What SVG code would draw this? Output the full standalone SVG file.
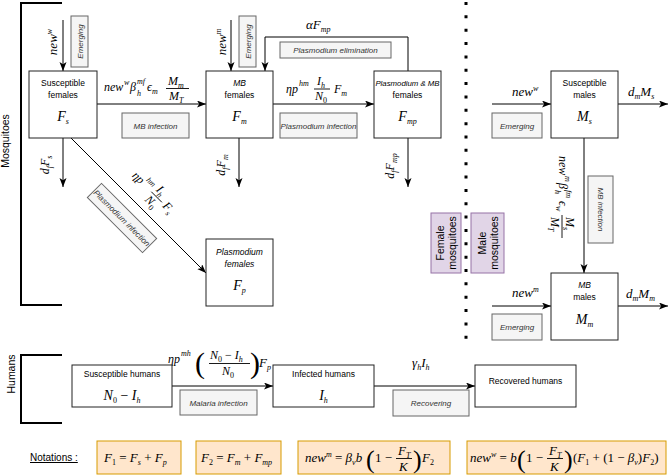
<svg xmlns="http://www.w3.org/2000/svg" width="669" height="475" viewBox="0 0 669 475">
<defs>
<marker id="ar" markerWidth="10" markerHeight="8" refX="9" refY="3.5" orient="auto" markerUnits="userSpaceOnUse"><path d="M0,0 L9,3.5 L0,7 L2.2,3.5 z" fill="#000"/></marker>
<style>
.box{fill:#fff;stroke:#222;stroke-width:1}
.lbl{fill:#f5f5f5;stroke:#666;stroke-width:1}
.pur{fill:#e1d5e7;stroke:#9673a6;stroke-width:1}
.not{fill:#ffe6cc;stroke:#d79b00;stroke-width:1}
.lt{font-family:"Liberation Sans",Arial,sans-serif;font-style:italic;font-size:8px;fill:#333;text-anchor:middle}
.t{font-family:"Liberation Sans",Arial,sans-serif;font-size:8.5px;fill:#000;text-anchor:middle}
.ti{font-family:"Liberation Sans",Arial,sans-serif;font-size:8.5px;font-style:italic;fill:#000;text-anchor:middle}
.big{font-family:"Liberation Sans",Arial,sans-serif;font-size:10.5px;fill:#000;text-anchor:middle}
.m{font-family:"Liberation Serif","DejaVu Serif",serif;font-style:italic;font-size:12px;fill:#000}
.nm{font-family:"Liberation Serif","DejaVu Serif",serif;font-style:italic;font-size:14px;fill:#000;text-anchor:middle}
.nt{font-family:"Liberation Serif","DejaVu Serif",serif;font-style:italic;font-size:13px;fill:#000}
.u{font-style:normal}
.s{font-size:8px}
.con line,.con path{stroke:#000;stroke-width:1;fill:none;marker-end:url(#ar)}
.br{stroke:#000;stroke-width:2;fill:none}
.fb{stroke:#000;stroke-width:0.9}
</style>
</defs>

<!-- brackets and group labels -->
<g id="mosquitoes-bracket">
<path class="br" d="M62,3 H21 V305 H62"/>
<text class="big" transform="translate(9,141) rotate(-90)">Mosquitoes</text>
</g>
<g id="humans-bracket">
<path class="br" d="M62,355 H21 V423 H62"/>
<text class="big" transform="translate(15,374) rotate(-90)">Humans</text>
</g>
<g id="divider">
<line x1="466" y1="2" x2="466" y2="340" stroke="#000" stroke-width="3" stroke-dasharray="3 10.35"/>
</g>
<g id="female-label">
<rect class="pur" x="431" y="213" width="30" height="60"/>
<text class="big" transform="translate(446,243) rotate(-90)"><tspan x="0" y="-2">Female</tspan><tspan x="0" y="10">mosquitoes</tspan></text>
</g>
<g id="male-label">
<rect class="pur" x="471" y="213" width="33" height="60"/>
<text class="big" transform="translate(487.5,243) rotate(-90)"><tspan x="0" y="-2">Male</tspan><tspan x="0" y="10">mosquitoes</tspan></text>
</g>

<!-- connectors -->
<g id="connectors" class="con">
<line x1="63" y1="20" x2="63" y2="71"/>
<line x1="97" y1="104" x2="206" y2="104"/>
<line x1="231" y1="20" x2="231" y2="71"/>
<path d="M408,71 V37 H265 V71"/>
<line x1="273" y1="104" x2="374" y2="104"/>
<line x1="63" y1="138" x2="63" y2="187"/>
<line x1="239" y1="138" x2="239" y2="187"/>
<line x1="408" y1="138" x2="408" y2="187"/>
<line x1="71" y1="138" x2="206" y2="273"/>
<line x1="492" y1="104" x2="551" y2="104"/>
<line x1="618" y1="104" x2="668" y2="104"/>
<line x1="584" y1="138" x2="584" y2="273"/>
<line x1="492" y1="306" x2="551" y2="306"/>
<line x1="618" y1="306" x2="668" y2="306"/>
<line x1="172" y1="386" x2="273" y2="386"/>
<line x1="374" y1="386" x2="475" y2="386"/>
</g>

<!-- connector labels -->
<g id="edge-labels">
<rect class="lbl" x="71" y="16" width="17" height="51"/>
<text class="lt" transform="translate(82.5,41.5) rotate(-90)">Emerging</text>
<text class="m" transform="translate(57,42) rotate(-90)" text-anchor="middle" style="font-size:13px">new<tspan class="s" dy="-5">w</tspan></text>

<rect class="lbl" x="239" y="16" width="17" height="51"/>
<text class="lt" transform="translate(250.5,41.5) rotate(-90)">Emerging</text>
<text class="m" transform="translate(226,42) rotate(-90)" text-anchor="middle" style="font-size:13px">new<tspan class="s" dy="-5">m</tspan></text>

<text class="m" x="104" y="91">new</text>
<text class="m s" x="124" y="85">w</text>
<text class="m" x="130" y="91">β</text>
<text class="m s" x="137" y="84">mf</text>
<text class="m s" x="137" y="96">h</text>
<text class="m" x="147" y="91">ϵ</text>
<text class="m s" x="152" y="94">m</text>
<text class="m" x="168" y="85">M<tspan class="s" dy="3">m</tspan></text>
<line class="fb" x1="166" y1="88.5" x2="189" y2="88.5"/>
<text class="m" x="169" y="100">M<tspan class="s" dy="3">T</tspan></text>
<rect class="lbl" x="122" y="113" width="67" height="25"/>
<text class="lt" x="155.5" y="128.5">MB infection</text>

<text class="m" x="306" y="29" style="font-size:13px">αF<tspan class="s" dy="3">mp</tspan></text>
<rect class="lbl" x="280" y="42" width="111" height="16"/>
<text class="lt" x="335.5" y="53">Plasmodium elimination</text>

<text class="m" x="286" y="93">ηp</text>
<text class="m s" x="299" y="86">hm</text>
<text class="m" x="317" y="85">I<tspan class="s" dy="3">h</tspan></text>
<line class="fb" x1="314" y1="89" x2="330" y2="89"/>
<text class="m" x="315" y="100">N<tspan class="s u" dy="3">0</tspan></text>
<text class="m" x="334" y="93">F<tspan class="s" dy="3">m</tspan></text>
<rect class="lbl" x="280" y="113" width="77" height="25"/>
<text class="lt" x="318.5" y="128.5">Plasmodium infection</text>

<text class="m" transform="translate(49,165) rotate(-90)" text-anchor="middle">d<tspan class="s" dy="3">f</tspan><tspan dy="-3">F</tspan><tspan class="s" dy="3">s</tspan></text>
<text class="m" transform="translate(225,165) rotate(-90)" text-anchor="middle">d<tspan class="s" dy="3">f</tspan><tspan dy="-3">F</tspan><tspan class="s" dy="3">m</tspan></text>
<text class="m" transform="translate(394,166) rotate(-90)" text-anchor="middle">d<tspan class="s" dy="3">f</tspan><tspan dy="-3">F</tspan><tspan class="s" dy="3">mp</tspan></text>

<g transform="translate(152,191) rotate(45)">
<text class="m" x="-25" y="4">ηp</text>
<text class="m s" x="-12" y="-3">hm</text>
<text class="m" x="2" y="-3">I<tspan class="s" dy="3">h</tspan></text>
<line class="fb" x1="0" y1="1" x2="15" y2="1"/>
<text class="m" x="1" y="12">N<tspan class="s u" dy="3">0</tspan></text>
<text class="m" x="18" y="4">F<tspan class="s" dy="3">s</tspan></text>
</g>
<g transform="translate(122,218) rotate(45)">
<rect class="lbl" x="-39" y="-10" width="78" height="20"/>
<text class="lt" x="0" y="3">Plasmodium infection</text>
</g>

<text class="m" x="512" y="96" style="font-size:13px">new<tspan class="s" dy="-5">w</tspan></text>
<rect class="lbl" x="492" y="113" width="50" height="25"/>
<text class="lt" x="517" y="128.5">Emerging</text>
<text class="m" x="628" y="96" style="font-size:13px">d<tspan class="s" dy="3">m</tspan><tspan dy="-3">M</tspan><tspan class="s" dy="3">s</tspan></text>

<g transform="translate(563,198) rotate(90)">
<text class="m" x="-42" y="4">new</text>
<text class="m s" x="-22" y="-2">m</text>
<text class="m" x="-15" y="4">β</text>
<text class="m s" x="-8" y="-3">fm</text>
<text class="m s" x="-8" y="8">h</text>
<text class="m" x="3" y="4">ϵ</text>
<text class="m s" x="8" y="7">w</text>
<text class="m" x="19" y="-3">M<tspan class="s" dy="3">s</tspan></text>
<line class="fb" x1="17" y1="1" x2="40" y2="1"/>
<text class="m" x="19" y="12">M<tspan class="s" dy="3">T</tspan></text>
</g>
<rect class="lbl" x="588" y="176" width="25" height="67"/>
<text class="lt" transform="translate(597.5,209.5) rotate(90)">MB infection</text>

<text class="m" x="512" y="297" style="font-size:13px">new<tspan class="s" dy="-5">m</tspan></text>
<rect class="lbl" x="492" y="314" width="50" height="26"/>
<text class="lt" x="517" y="330">Emerging</text>
<text class="m" x="626" y="298" style="font-size:13px">d<tspan class="s" dy="3">m</tspan><tspan dy="-3">M</tspan><tspan class="s" dy="3">m</tspan></text>

<text class="m" x="168" y="363">ηp</text>
<text class="m s" x="181" y="356">mh</text>
<text class="m u" x="195" y="373" style="font-size:30px">(</text>
<text class="m" x="210" y="359">N<tspan class="s u" dy="3">0</tspan><tspan class="u" dy="-3"> − </tspan>I<tspan class="s" dy="3">h</tspan></text>
<line class="fb" x1="209" y1="363.5" x2="250" y2="363.5"/>
<text class="m" x="222" y="375">N<tspan class="s u" dy="3">0</tspan></text>
<text class="m u" x="250" y="373" style="font-size:30px">)</text>
<text class="m" x="259" y="367" style="font-size:13px">F<tspan class="s" dy="3">p</tspan></text>
<rect class="lbl" x="180" y="390" width="77" height="25"/>
<text class="lt" x="218.5" y="405.5">Malaria infection</text>

<text class="m" x="412" y="367" style="font-size:13px">γ<tspan class="s" dy="3">h</tspan><tspan dy="-3">I</tspan><tspan class="s" dy="3">h</tspan></text>
<rect class="lbl" x="393" y="390" width="76" height="26"/>
<text class="lt" x="431" y="406">Recovering</text>
</g>

<!-- nodes -->
<g id="node-Fs">
<rect class="box" x="29" y="71" width="68" height="67"/>
<text class="t" x="63" y="86">Susceptible</text>
<text class="t" x="63" y="98">females</text>
<text class="nm" x="63" y="121">F<tspan class="s" dy="3">s</tspan></text>
</g>
<g id="node-Fm">
<rect class="box" x="206" y="71" width="67" height="67"/>
<text class="ti" x="239.5" y="86">MB</text>
<text class="t" x="239.5" y="98">females</text>
<text class="nm" x="239.5" y="121">F<tspan class="s" dy="3">m</tspan></text>
</g>
<g id="node-Fmp">
<rect class="box" x="374" y="71" width="67" height="67"/>
<text class="ti" x="407.5" y="86" style="font-size:7.8px">Plasmodium &amp; MB</text>
<text class="t" x="407.5" y="98">females</text>
<text class="nm" x="407.5" y="121">F<tspan class="s" dy="3">mp</tspan></text>
</g>
<g id="node-Fp">
<rect class="box" x="206" y="239" width="67" height="67"/>
<text class="ti" x="239.5" y="255">Plasmodium</text>
<text class="ti" x="239.5" y="267">females</text>
<text class="nm" x="239.5" y="290">F<tspan class="s" dy="3">p</tspan></text>
</g>
<g id="node-Ms">
<rect class="box" x="551" y="71" width="67" height="67"/>
<text class="t" x="584.5" y="86">Susceptible</text>
<text class="t" x="584.5" y="98">males</text>
<text class="nm" x="584.5" y="121">M<tspan class="s" dy="3">s</tspan></text>
</g>
<g id="node-Mm">
<rect class="box" x="551" y="273" width="67" height="67"/>
<text class="ti" x="584.5" y="288">MB</text>
<text class="t" x="584.5" y="300">males</text>
<text class="nm" x="584.5" y="324">M<tspan class="s" dy="3">m</tspan></text>
</g>
<g id="node-Sh">
<rect class="box" x="72" y="365" width="100" height="42"/>
<text class="t" x="122" y="377">Susceptible humans</text>
<text class="nm" x="122" y="400">N<tspan class="s u" dy="3">0</tspan><tspan class="u" dy="-3"> − </tspan>I<tspan class="s" dy="3">h</tspan></text>
</g>
<g id="node-Ih">
<rect class="box" x="273" y="365" width="101" height="42"/>
<text class="t" x="323.5" y="377">Infected humans</text>
<text class="nm" x="323.5" y="400">I<tspan class="s" dy="3">h</tspan></text>
</g>
<g id="node-Rh">
<rect class="box" x="475" y="365" width="101" height="42"/>
<text class="t" x="525.5" y="384">Recovered humans</text>
</g>

<!-- notations -->
<g id="notations">
<text x="30" y="461" font-family="Liberation Sans,Arial,sans-serif" font-size="10" text-decoration="underline">Notations :</text>
<rect class="not" x="97" y="441" width="84" height="33"/>
<text class="nt" x="104" y="462">F<tspan class="s u" dy="3">1</tspan><tspan class="u" dy="-3"> = </tspan>F<tspan class="s" dy="3">s</tspan><tspan class="u" dy="-3"> + </tspan>F<tspan class="s" dy="3">p</tspan></text>
<rect class="not" x="196" y="441" width="85" height="33"/>
<text class="nt" x="201" y="462">F<tspan class="s u" dy="3">2</tspan><tspan class="u" dy="-3"> = </tspan>F<tspan class="s" dy="3">m</tspan><tspan class="u" dy="-3"> + </tspan>F<tspan class="s" dy="3">mp</tspan></text>
<rect class="not" x="298" y="441" width="152" height="33"/>
<text class="nt" x="305" y="462">new<tspan class="s" dy="-5">m</tspan><tspan class="u" dy="5"> = </tspan>β<tspan class="s" dy="3">v</tspan><tspan dy="-3">b</tspan></text>
<text class="nt u" x="366" y="468" style="font-size:26px">(</text>
<text class="nt u" x="375" y="462">1 −</text>
<text class="nt" x="398" y="455">F<tspan class="s" dy="3">T</tspan></text>
<line class="fb" x1="396" y1="458.5" x2="412" y2="458.5"/>
<text class="nt" x="399" y="471">K</text>
<text class="nt u" x="413" y="468" style="font-size:26px">)</text>
<text class="nt" x="422" y="462">F<tspan class="s u" dy="3">2</tspan></text>
<rect class="not" x="467" y="441" width="199" height="33"/>
<text class="nt" x="470" y="462">new<tspan class="s" dy="-5">w</tspan><tspan class="u" dy="5"> = </tspan>b</text>
<text class="nt u" x="517" y="468" style="font-size:26px">(</text>
<text class="nt u" x="526" y="462">1 −</text>
<text class="nt" x="549" y="455">F<tspan class="s" dy="3">T</tspan></text>
<line class="fb" x1="547" y1="458.5" x2="563" y2="458.5"/>
<text class="nt" x="550" y="471">K</text>
<text class="nt u" x="564" y="468" style="font-size:26px">)</text>
<text class="nt" x="573" y="462"><tspan class="u">(</tspan>F<tspan class="s u" dy="3">1</tspan><tspan class="u" dy="-3"> + (1 − </tspan>β<tspan class="s" dy="3">v</tspan><tspan class="u" dy="-3">)</tspan>F<tspan class="s u" dy="3">2</tspan><tspan class="u" dy="-3">)</tspan></text>
</g>
</svg>
